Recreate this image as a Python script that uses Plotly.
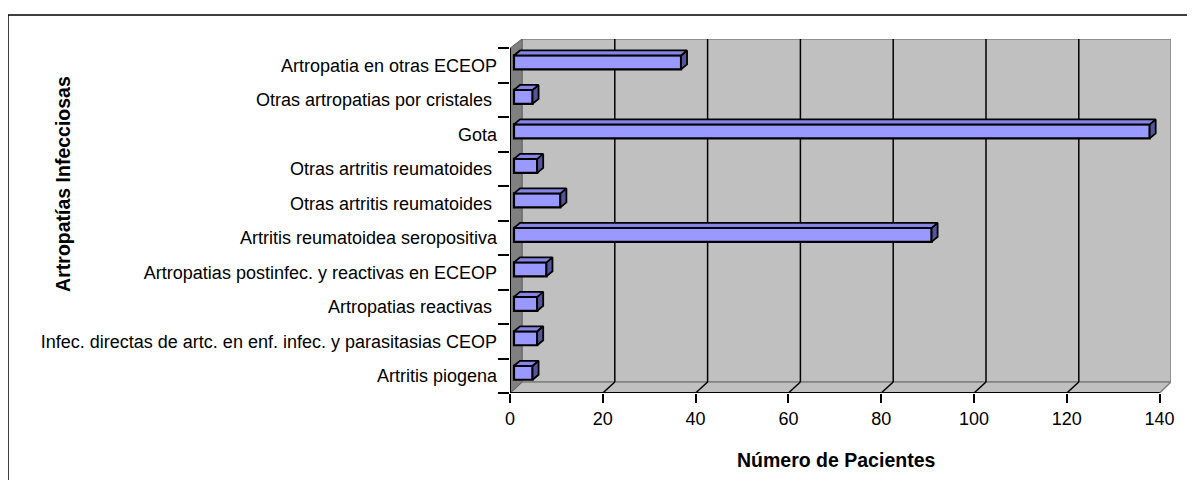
import plotly.graph_objects as go

# ---------------- data ----------------
categories = [
    "Artritis piogena",
    "Infec. directas de artc. en enf. infec. y parasitasias CEOP",
    "Artropatias reactivas\u00a0",
    "Artropatias postinfec. y reactivas en ECEOP",
    "Artritis reumatoidea seropositiva",
    "Otras artritis reumatoides\u00a0",
    "Otras artritis reumatoides\u00a0",
    "Gota",
    "Otras artropatias por cristales\u00a0",
    "Artropatia en otras ECEOP",
]
values = [4, 5, 5, 7, 90, 10, 5, 137, 4, 36]
x_ticks = [0, 20, 40, 60, 80, 100, 120, 140]
x_title = "Número de Pacientes"
y_title = "Artropatías Infecciosas"

# ---------------- geometry (pixels, window coordinates) ----------------
OFF = 8                                   # default page body margin
W, H = 1195 - OFF, 480 - OFF
L, R, T, B = 510, 1171, 39, 393.3         # plot area (window px)
X_END = 1159.6                            # window px where 140 sits
ppx = (X_END - L) / x_ticks[-1]
ppy = 34.51
xmax = (R - L) / ppx
ymin = -0.5
ymax = ymin + (B - T) / ppy
ytop = ymin + len(categories)             # top of category band

wall_dx = 12 / ppx
floor_dy = 11 / ppy
bar_dx = 6 / ppx
bar_dy = 5 / ppy
bar_h = 0.405
bar_shift = 3 / ppy                       # bars sit slightly above band centre (depth)
bar_base = 4 / ppx                        # front face starts inside the box (depth)

ypos = list(range(len(categories)))

def px2paper(px, py):
    return (px - L) / (R - L), (B - py) / (B - T)

fig = go.Figure()

fig.add_trace(go.Bar(
    x=values, y=ypos, orientation="h", width=bar_h, base=bar_base,
    offset=-bar_h / 2 + bar_shift,
    marker=dict(color="#9999FF", line=dict(color="black", width=2.2)),
    hoverinfo="skip", showlegend=False,
))

sx, sy, tx, ty = [], [], [], []
for v, c in zip(values, ypos):
    top = c + bar_shift + bar_h / 2
    bot = c + bar_shift - bar_h / 2
    e = bar_base + v
    sx += [e, e + bar_dx, e + bar_dx, e, e, None]
    sy += [bot, bot + bar_dy, top + bar_dy, top, bot, None]
    tx += [bar_base, bar_base + bar_dx, e + bar_dx, e, bar_base, None]
    ty += [top, top + bar_dy, top + bar_dy, top, top, None]

fig.add_trace(go.Scatter(x=sx, y=sy, mode="lines", fill="toself",
                         fillcolor="#55559A", line=dict(color="black", width=1.8),
                         hoverinfo="skip", showlegend=False))
fig.add_trace(go.Scatter(x=tx, y=ty, mode="lines", fill="toself",
                         fillcolor="#8585E6", line=dict(color="black", width=1.8),
                         hoverinfo="skip", showlegend=False))

shapes = []
# back wall
shapes.append(dict(type="rect", xref="x", yref="y", layer="below",
                   x0=wall_dx, x1=xmax, y0=ymin + floor_dy, y1=ymax,
                   fillcolor="#C0C0C0", line=dict(color="#808080", width=1.5)))
# floor
shapes.append(dict(type="path", xref="x", yref="y", layer="below",
                   path=f"M 0 {ymin} L {wall_dx} {ymin + floor_dy} L {xmax} {ymin + floor_dy} "
                        f"L {x_ticks[-1]} {ymin} Z",
                   fillcolor="#C0C0C0", line=dict(color="#808080", width=1.5)))
# left wall
shapes.append(dict(type="path", xref="x", yref="y", layer="below",
                   path=f"M 0 {ymin} L 0 {ytop} L {wall_dx} {ymax} "
                        f"L {wall_dx} {ymin + floor_dy} Z",
                   fillcolor="#808080", line=dict(color="#606060", width=1)))
# gridlines on back wall and floor
for t in x_ticks[1:-1]:
    shapes.append(dict(type="line", xref="x", yref="y", layer="below",
                       x0=t + wall_dx, x1=t + wall_dx, y0=ymin + floor_dy, y1=ymax,
                       line=dict(color="black", width=1.5)))
    shapes.append(dict(type="line", xref="x", yref="y", layer="below",
                       x0=t, x1=t + wall_dx, y0=ymin, y1=ymin + floor_dy,
                       line=dict(color="black", width=1.5)))
# axis lines
shapes.append(dict(type="line", xref="x", yref="y", x0=0, x1=x_ticks[-1], y0=ymin, y1=ymin,
                   line=dict(color="black", width=2)))
shapes.append(dict(type="line", xref="x", yref="y", x0=0, x1=0, y0=ymin, y1=ytop,
                   line=dict(color="black", width=2)))
# outer chart border
bx0, by0 = px2paper(8, 15)
bx1, by1 = px2paper(1205, 495)
shapes.append(dict(type="rect", xref="paper", yref="paper", x0=bx0, x1=bx1, y0=by1, y1=by0,
                   line=dict(color="black", width=1.5), fillcolor="rgba(0,0,0,0)"))

tx_, ty_ = px2paper(836, 460)
yx_, yy_ = px2paper(63, 184)
annotations = [
    dict(text=f"<b>{x_title}</b>", xref="paper", yref="paper", x=tx_, y=ty_,
         xanchor="center", yanchor="middle", showarrow=False,
         font=dict(family="Liberation Sans, Arial", size=19.5, color="black")),
    dict(text=f"<b>{y_title}</b>", xref="paper", yref="paper", x=yx_, y=yy_,
         xanchor="center", yanchor="middle", showarrow=False, textangle=-90,
         font=dict(family="Liberation Sans, Arial", size=19.5, color="black")),
]

fig.update_layout(
    width=W, height=H,
    margin=dict(l=L - OFF, r=1195 - R, t=T - OFF, b=480 - B, pad=0),
    paper_bgcolor="white", plot_bgcolor="white",
    font=dict(family="Liberation Sans, Arial", size=18, color="black"),
    shapes=shapes, annotations=annotations,
    xaxis=dict(range=[0, xmax], tickvals=x_ticks, ticktext=[str(t) for t in x_ticks],
               showgrid=False, zeroline=False, showline=False,
               ticks="outside", ticklen=9, tickwidth=1.5, tickcolor="black",
               ticklabelstandoff=0, tickfont=dict(size=18)),
    yaxis=dict(range=[ymin, ymax], tickvals=ypos, ticktext=categories,
               showgrid=False, zeroline=False, showline=False,
               ticks="", ticklabelstandoff=12,
               minor=dict(tickmode="array", tickvals=[i - 0.5 for i in range(len(categories) + 1)],
                          ticks="outside", ticklen=11, tickwidth=1.5, tickcolor="black"),
               tickfont=dict(size=18)),
)

fig.write_html("out.html")
